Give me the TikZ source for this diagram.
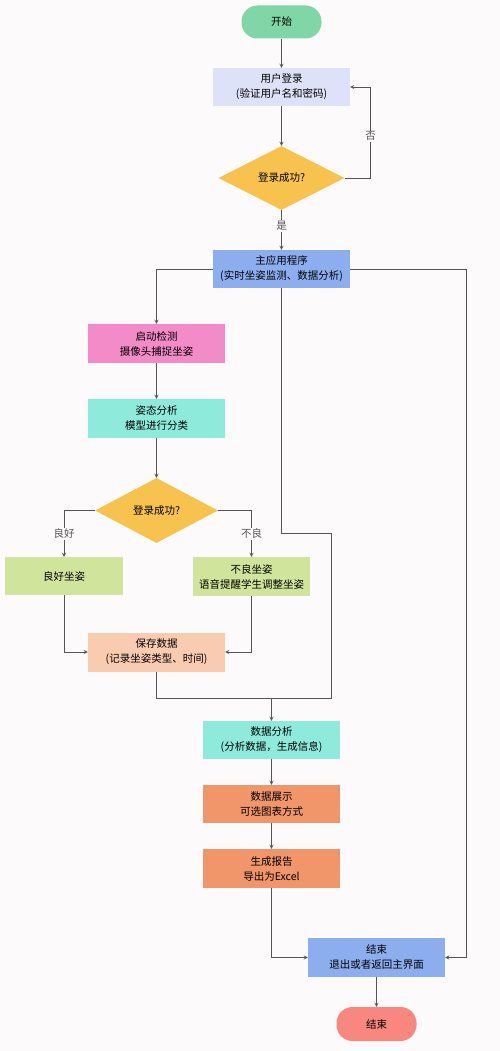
\documentclass[tikz,border=0pt]{standalone}
\usepackage{fontspec}
\setmainfont{Noto Sans CJK SC}
\usepackage{tikz}
\usetikzlibrary{arrows,shapes,positioning}
\usepackage{xcolor}
\definecolor{ssgreen}{HTML}{80D6A6}
\definecolor{sslavender}{HTML}{DDE2F8}
\definecolor{ssyellow}{HTML}{F8C24F}
\definecolor{ssblue}{HTML}{8DAEEE}
\definecolor{sspink}{HTML}{F28BC8}
\definecolor{ssaqua}{HTML}{8EEADB}
\definecolor{sslime}{HTML}{D1E49B}
\definecolor{sspeach}{HTML}{F9CCB1}
\definecolor{ssorange}{HTML}{F1956B}
\definecolor{sssalmon}{HTML}{F7877F}
\definecolor{ssline}{HTML}{555555}
\definecolor{ssbg}{HTML}{FDFAFC}
\tikzstyle{arrow} = [->,>=stealth,line width=0.8pt,color=ssline]
\tikzstyle{link} = [line width=0.8pt,color=ssline]
\tikzstyle{stepbox} = [rectangle, minimum width=137pt, minimum height=38pt, inner sep=0pt, text centered, align=center, font=\fontsize{10.5}{15}\selectfont]
\tikzstyle{pill} = [rectangle, rounded corners=16pt, minimum width=80pt, minimum height=33pt, inner sep=0pt, font=\fontsize{10.5}{15}\selectfont]
\tikzstyle{decision} = [diamond, aspect=2, inner sep=0pt, fill=ssyellow, font=\fontsize{10.5}{15}\selectfont]
\tikzstyle{branch} = [fill=ssbg, inner sep=1pt, font=\fontsize{10.5}{15}\selectfont]

\begin{document}
\begin{tikzpicture}[x=1pt, y=1pt]
\fill[ssbg] (0,0) rectangle (500,-1051);
\useasboundingbox (0,0) rectangle (500,-1051);

% Login part
\node (start) [pill, fill=ssgreen] at (281.5,-22) {开始};
\node (login) [stepbox, below of=start, node distance=65pt, fill=sslavender] {用户登录\\(验证用户名和密码)};
\node (check) [decision, below of=login, node distance=91pt, minimum width=126pt, minimum height=64pt] {登录成功?};
\node (mainapp) [stepbox, below of=check, node distance=91pt, fill=ssblue] {主应用程序\\(实时坐姿监测、数据分析)};

% Detection part
\node (detect) [stepbox, below of=mainapp, node distance=74.5pt, xshift=-125pt, minimum height=39pt, fill=sspink] {启动检测\\摄像头捕捉坐姿};
\node (posture) [stepbox, below of=detect, node distance=75pt, minimum height=39pt, fill=ssaqua] {姿态分析\\模型进行分类};
\node (judge) [decision, below of=posture, node distance=92pt, minimum width=123pt, minimum height=65pt] {登录成功?};
\node (good) [stepbox, below of=judge, node distance=65.5pt, xshift=-92.5pt, minimum width=118pt, fill=sslime] {良好坐姿};
\node (bad) [stepbox, below of=judge, node distance=66pt, xshift=95pt, minimum width=117pt, minimum height=39pt, fill=sslime] {不良坐姿\\语音提醒学生调整坐姿};
\node (save) [stepbox, below of=judge, node distance=141.5pt, minimum height=39pt, fill=sspeach] {保存数据\\(记录坐姿类型、时间)};

% Analysis part
\node (analysis) [stepbox, below of=save, node distance=88pt, xshift=115pt, fill=ssaqua] {数据分析\\(分析数据，生成信息)};
\node (display) [stepbox, below of=analysis, node distance=64pt, fill=ssorange] {数据展示\\可选图表方式};
\node (report) [stepbox, below of=display, node distance=64.5pt, minimum height=39pt, fill=ssorange] {生成报告\\导出为Excel};
\node (finish) [stepbox, below of=report, node distance=89pt, xshift=105pt, minimum height=39pt, fill=ssblue] {结束\\退出或者返回主界面};
\node (stop) [pill, below of=finish, node distance=66.5pt, minimum height=34pt, fill=sssalmon] {结束};
\coordinate[above of=analysis, node distance=42pt] (join);

% Arrows
\draw[arrow] (start) -- (login);
\draw[arrow] (login) -- (check);
\draw[arrow] (check) -- node[branch, pos=0.4] {是} (mainapp);
\draw[arrow] (check.east) -- ++(26,0) |- node[branch, pos=0.23] {否} (login.east);
\draw[arrow] (mainapp.west) -| (detect);
\draw[arrow] (mainapp.east) -- ++(116,0) |- (finish.east);
\draw[link] (mainapp.south) -- ++(0,-245) -- ++(49.5,0) |- (join);
\draw[arrow] (detect) -- (posture);
\draw[arrow] (posture) -- (judge);
\draw[arrow] (judge.west) -| node[branch, pos=0.75] {良好} (good);
\draw[arrow] (judge.east) -| node[branch, pos=0.75] {不良} (bad);
\draw[arrow] (good) |- (save);
\draw[arrow] (bad) |- (save);
\draw[link] (save.south) |- (join);
\draw[arrow] (join) -- (analysis);
\draw[arrow] (analysis) -- (display);
\draw[arrow] (display) -- (report);
\draw[arrow] (report) |- (finish);
\draw[arrow] (finish) -- (stop);
\end{tikzpicture}
\end{document}
